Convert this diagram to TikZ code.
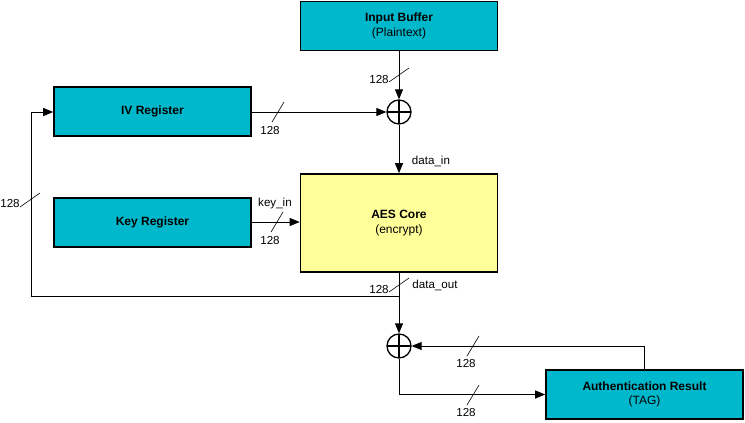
\documentclass[tikz,border=0pt]{standalone}
\usepackage{fontspec}
\setmainfont{Liberation Sans}
\usetikzlibrary{arrows.meta,calc}
\definecolor{tealbox}{RGB}{0,184,204}
\definecolor{yellowbox}{RGB}{255,255,153}
\begin{document}
\begin{tikzpicture}[x=1pt,y=-1pt,
  blockbox/.style={draw=black,line width=1.6pt,fill=tealbox,minimum width=197pt,minimum height=49pt,align=center,inner sep=0pt,font=\fontsize{12}{14.5}\selectfont},
  corebox/.style={blockbox,fill=yellowbox,minimum height=98pt},
  xorgate/.style={draw=black,circle,line width=1.3pt,minimum size=24pt,inner sep=0pt,
    path picture={\draw[line width=1.1pt] (path picture bounding box.north)--(path picture bounding box.south)
      (path picture bounding box.west)--(path picture bounding box.east);}},
  conn/.style={line width=0.9pt,-{Triangle[length=10pt,width=8pt]}},
  wire/.style={line width=0.9pt},
  lbl/.style={font=\fontsize{11.6}{13}\selectfont,inner sep=0pt},
  slashmark/.style={line width=0.6pt}
]
\useasboundingbox (0,0) rectangle (745,423);

\node[blockbox] (inbuf) at (399,26) {\textbf{Input Buffer}\\(Plaintext)};
\node[blockbox] (iv) at (152.5,111.5) {\textbf{IV Register}};
\node[blockbox] (key) at (152.5,222.5) {\textbf{Key Register}};
\node[corebox] (aes) at (399,223) {\textbf{AES Core}\\(encrypt)};
\node[blockbox] (auth) at (644.5,394.5) {\textbf{Authentication Result}\\(TAG)};

\node[xorgate] (x1) at (399,112) {};
\node[xorgate] (x2) at (399,346) {};

% connectors
\draw[conn] (inbuf.south) -- (x1.north);
\draw[conn] (iv.east |- x1) -- (x1.west);
\draw[conn] (x1.south) -- (aes.north);
\draw[conn] (key.east |- 0,222) -- (aes.west |- 0,222);
\draw[conn] (aes.south) -- (x2.north);
\coordinate (fbj) at (399,296);
\coordinate (fbl) at (31,296);
\coordinate (fbt) at (31,112);
\draw[conn] (fbj) -- (fbl) -- (fbt) -- (iv.west |- fbt);
\coordinate (authup) at (auth.north |- x2);
\draw[conn] (auth.north) -- (authup) -- (x2.east);
\coordinate (authdn) at (x2 |- auth);
\draw[conn] (x2.south) -- (authdn) -- (auth.west);

% bus width slashes
\coordinate (s1) at (399,75);
\coordinate (s2) at (278,112);
\coordinate (s3) at (277,222);
\coordinate (s4) at (30,200);
\coordinate (s5) at (399,285);
\coordinate (s6) at (473,346);
\coordinate (s7) at (473,395);
\foreach \c in {s1,s4,s5}{\draw[slashmark] ($(\c)+(-10,7)$) -- ($(\c)+(10,-7)$);}
\foreach \c in {s2,s3,s6,s7}{\draw[slashmark] ($(\c)+(-6,10)$) -- ($(\c)+(6,-10)$);}

% labels
\node[lbl] (l1) at (379,80) {128};
\node[lbl] (l2) at (270,131) {128};
\node[lbl] (l3) at (275,203) {key\_in};
\node[lbl] (l4) at (270,241) {128};
\node[lbl] (l5) at (10,204) {128};
\node[lbl] (l6) at (431,161) {data\_in};
\node[lbl] (l7) at (435,285) {data\_out};
\node[lbl] (l8) at (379,290) {128};
\node[lbl] (l9) at (466,364) {128};
\node[lbl] (l10) at (466,413) {128};
\end{tikzpicture}
\end{document}
